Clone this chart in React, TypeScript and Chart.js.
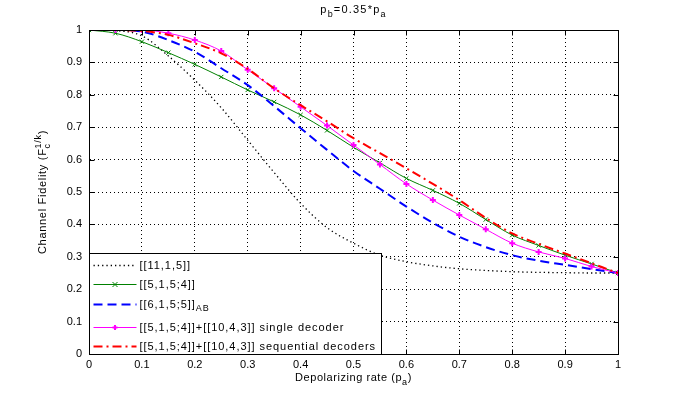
import React, { useEffect, useRef } from 'react';
import { Chart, registerables } from 'chart.js';

Chart.register(...registerables);

const FONT = '"Liberation Sans", Arial, Helvetica, sans-serif';

// Depolarizing rate p_a
const pa = [0, 0.05, 0.1, 0.15, 0.2, 0.25, 0.3, 0.35, 0.4, 0.45, 0.5, 0.55, 0.6, 0.65, 0.7, 0.75, 0.8, 0.85, 0.9, 0.95, 1];

// [[11,1,5]]
const code11 = [1, 0.998, 0.982, 0.92, 0.845, 0.76, 0.66, 0.56, 0.465, 0.39, 0.342, 0.305, 0.285, 0.272, 0.263, 0.258, 0.254, 0.252, 0.251, 0.25, 0.25];
// [[5,1,5;4]]
const code5 = [1, 0.99, 0.964, 0.93, 0.894, 0.855, 0.815, 0.778, 0.738, 0.69, 0.638, 0.59, 0.542, 0.505, 0.465, 0.415, 0.367, 0.335, 0.305, 0.278, 0.25];
// [[6,1,5;5]]_AB
const code6AB = [1, 1, 0.995, 0.969, 0.933, 0.882, 0.83, 0.765, 0.697, 0.63, 0.565, 0.51, 0.455, 0.405, 0.362, 0.33, 0.305, 0.288, 0.275, 0.262, 0.25];
// [[5,1,5;4]]+[[10,4,3]] single decoder
const singleDec = [1, 1, 1, 0.99, 0.969, 0.935, 0.877, 0.82, 0.763, 0.705, 0.645, 0.585, 0.525, 0.475, 0.429, 0.385, 0.342, 0.315, 0.295, 0.27, 0.25];
// [[5,1,5;4]]+[[10,4,3]] sequential decoders
const seqDec = [1, 1, 0.997, 0.985, 0.959, 0.928, 0.88, 0.82, 0.768, 0.718, 0.666, 0.62, 0.573, 0.525, 0.475, 0.42, 0.372, 0.34, 0.31, 0.28, 0.25];

const xTicks = [0, 0.1, 0.2, 0.3, 0.4, 0.5, 0.6, 0.7, 0.8, 0.9, 1];
const yTicks = [0, 0.1, 0.2, 0.3, 0.4, 0.5, 0.6, 0.7, 0.8, 0.9, 1];

type Seg = { t: string; k?: 'sub' | 'sup' };

const titleSegs: Seg[] = [{ t: 'p' }, { t: 'b', k: 'sub' }, { t: '=0.35*p' }, { t: 'a', k: 'sub' }];
const xLabelSegs: Seg[] = [{ t: 'Depolarizing rate (p' }, { t: 'a', k: 'sub' }, { t: ')' }];
const yLabelSegs: Seg[] = [{ t: 'Channel Fidelity (F' }, { t: 'c', k: 'sub' }, { t: '1/k', k: 'sup' }, { t: ')' }];

const legendLabels: Seg[][] = [
  [{ t: '[[11,1,5]]' }],
  [{ t: '[[5,1,5;4]]' }],
  [{ t: '[[6,1,5;5]]' }, { t: 'AB', k: 'sub' }],
  [{ t: '[[5,1,5;4]]+[[10,4,3]] single decoder' }],
  [{ t: '[[5,1,5;4]]+[[10,4,3]] sequential decoders' }],
];

const seriesStyles = [
  { color: '#000000', width: 1.3, dash: [1.3, 3], marker: '' },
  { color: '#008000', width: 1, dash: [] as number[], marker: 'crossRot' },
  { color: '#0000ff', width: 2, dash: [9, 5], marker: '' },
  { color: '#ff00ff', width: 1, dash: [] as number[], marker: 'cross' },
  { color: '#ff0000', width: 2, dash: [9, 4, 2, 4], marker: '' },
];

function drawRich(ctx: any, segs: Seg[], x: number, y: number, align: 'left' | 'center', size: number, spacing: number) {
  const small = Math.round(size * 0.78);
  ctx.letterSpacing = `${spacing}px`;
  const items: { s: Seg; x: number }[] = [];
  let cx = 0;
  for (let i = 0; i < segs.length; i++) {
    const s = segs[i];
    ctx.font = `${s.k ? small : size}px ${FONT}`;
    const w = ctx.measureText(s.t).width;
    const n = segs[i + 1];
    if (s.k === 'sub' && n && n.k === 'sup') {
      ctx.font = `${small}px ${FONT}`;
      const w2 = ctx.measureText(n.t).width;
      items.push({ s, x: cx }, { s: n, x: cx });
      cx += Math.max(w, w2);
      i++;
      continue;
    }
    items.push({ s, x: cx });
    cx += w;
  }
  const start = align === 'center' ? x - cx / 2 : x;
  ctx.textAlign = 'left';
  for (const it of items) {
    ctx.font = `${it.s.k ? small : size}px ${FONT}`;
    const dy = it.s.k === 'sub' ? size * 0.32 : it.s.k === 'sup' ? -size * 0.5 : 0;
    ctx.fillText(it.s.t, start + it.x, y + dy);
  }
  ctx.letterSpacing = '0px';
}

const overlayPlugin = {
  id: 'overlay',
  afterDatasetsDraw(chart: any) {
    const { ctx, chartArea: a, scales } = chart;
    ctx.save();
    ctx.setLineDash([]);
    ctx.strokeStyle = '#000';
    ctx.lineWidth = 1;
    const L = Math.round(a.left) + 0.5;
    const R = Math.round(a.right) + 0.5;
    const T = Math.round(a.top) + 0.5;
    const B = Math.round(a.bottom) + 0.5;
    ctx.strokeRect(L, T, R - L, B - T);
    const seg = (x1: number, y1: number, x2: number, y2: number) => {
      ctx.beginPath();
      ctx.moveTo(x1, y1);
      ctx.lineTo(x2, y2);
      ctx.stroke();
    };
    for (const v of xTicks) {
      const x = Math.round(scales.x.getPixelForValue(v)) + 0.5;
      seg(x, B, x, B - 5);
      seg(x, T, x, T + 5);
    }
    for (const v of yTicks) {
      const y = Math.round(scales.y.getPixelForValue(v)) + 0.5;
      seg(L, y, L + 5, y);
      seg(R, y, R - 5, y);
    }

    // Legend box (south-west, inside axes)
    const lx = L;
    const ly = 253.5;
    const lw = 292;
    const lh = B - ly;
    ctx.fillStyle = '#fff';
    ctx.fillRect(lx, ly, lw, lh);
    ctx.strokeRect(lx, ly, lw, lh);
    const rows = [265, 284, 304, 327, 346];
    ctx.textBaseline = 'middle';
    legendLabels.forEach((lab, i) => {
      const st = seriesStyles[i];
      const y = rows[i] + 0.5;
      ctx.strokeStyle = st.color;
      ctx.lineWidth = st.width;
      ctx.setLineDash(st.dash);
      seg(lx + 4, y, lx + 47, y);
      ctx.setLineDash([]);
      const mx = lx + 25.5;
      if (st.marker === 'crossRot') {
        ctx.lineWidth = 1;
        seg(mx - 2.5, y - 2.5, mx + 2.5, y + 2.5);
        seg(mx - 2.5, y + 2.5, mx + 2.5, y - 2.5);
      } else if (st.marker === 'cross') {
        ctx.lineWidth = 2;
        seg(mx - 2.5, y, mx + 2.5, y);
        seg(mx, y - 2.5, mx, y + 2.5);
      }
      ctx.fillStyle = '#000';
      drawRich(ctx, lab, lx + 50, y, 'left', 11, 0.95);
    });

    // Title and axis labels
    ctx.fillStyle = '#000';
    ctx.textBaseline = 'alphabetic';
    const cxm = (a.left + a.right) / 2;
    drawRich(ctx, titleSegs, cxm, 13, 'center', 11, 1.2);
    drawRich(ctx, xLabelSegs, cxm, 381, 'center', 11, 0.55);
    ctx.save();
    ctx.translate(46, (a.top + a.bottom) / 2);
    ctx.rotate(-Math.PI / 2);
    drawRich(ctx, yLabelSegs, 0, 0, 'center', 11, 0.7);
    ctx.restore();
    ctx.restore();
  },
};

export default function App() {
  const ref = useRef<HTMLCanvasElement>(null);
  useEffect(() => {
    if (!ref.current) return;
    const series = [code11, code5, code6AB, singleDec, seqDec];
    const labels = ['[[11,1,5]]', '[[5,1,5;4]]', '[[6,1,5;5]]AB', 'single decoder', 'sequential decoders'];
    const datasets = series.map((vals, i) => {
      const st = seriesStyles[i];
      return {
        label: labels[i],
        data: pa.map((x, j) => ({ x, y: vals[j] })),
        borderColor: st.color,
        backgroundColor: st.color,
        borderWidth: st.width,
        borderDash: st.dash,
        fill: false,
        cubicInterpolationMode: 'monotone' as const,
        pointRadius: st.marker ? 3 : 0,
        pointStyle: st.marker || 'circle',
        pointBorderColor: st.color,
        pointBorderWidth: st.marker === 'cross' ? 2 : 1,
        order: 5 - i,
      };
    });
    const chart = new Chart(ref.current, {
      type: 'line',
      data: { datasets },
      plugins: [overlayPlugin],
      options: {
        responsive: false,
        animation: false,
        devicePixelRatio: 1,
        layout: { padding: { top: 30, right: 65, left: 0, bottom: 0 } },
        plugins: { legend: { display: false }, tooltip: { enabled: false }, title: { display: false } },
        scales: {
          x: {
            type: 'linear',
            min: 0,
            max: 1,
            afterFit: (s: any) => { s.height = 44; },
            afterBuildTicks: (s: any) => { s.ticks = xTicks.map((v) => ({ value: v })); },
            ticks: {
              color: '#000',
              font: { family: FONT, size: 11 },
              padding: 4,
              maxRotation: 0,
              autoSkip: false,
              callback: (v: any) => String(Math.round(Number(v) * 10) / 10),
            },
            grid: { color: '#000', lineWidth: 1, drawTicks: false },
            border: { display: true, color: '#000', width: 1, dash: [1, 3] },
          },
          y: {
            type: 'linear',
            min: 0,
            max: 1,
            afterFit: (s: any) => { s.width = 89; },
            afterBuildTicks: (s: any) => { s.ticks = yTicks.map((v) => ({ value: v })); },
            ticks: {
              color: '#000',
              font: { family: FONT, size: 11 },
              padding: 7,
              autoSkip: false,
              callback: (v: any) => String(Math.round(Number(v) * 10) / 10),
            },
            grid: { color: '#000', lineWidth: 1, drawTicks: false },
            border: { display: true, color: '#000', width: 1, dash: [1, 3] },
          },
        },
      },
    } as any);
    return () => chart.destroy();
  }, []);
  return (
    <div style={{ position: 'fixed', left: 0, top: 0, width: 683, height: 398, background: '#fff' }}>
      <canvas ref={ref} width={683} height={398} style={{ display: 'block' }} />
    </div>
  );
}
